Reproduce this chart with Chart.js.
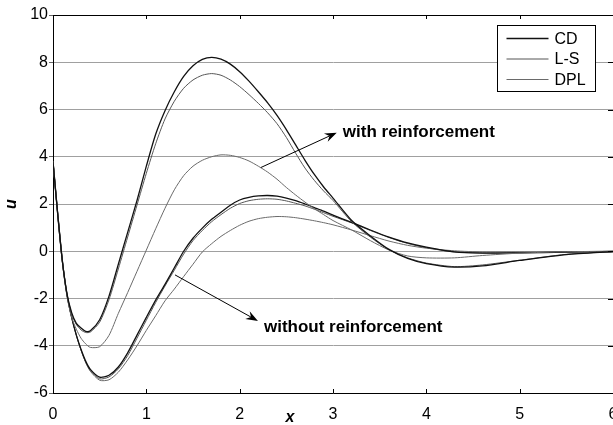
<!DOCTYPE html>
<html>
<head>
<meta charset="utf-8">
<script src="https://cdn.jsdelivr.net/npm/chart.js@4.4.1/dist/chart.umd.min.js"></script>
<style>
  html, body { margin: 0; padding: 0; background: #fff; }
  #wrap { width: 613px; height: 425px; }
</style>
</head>
<body>
<div id="wrap"><canvas id="c" width="613" height="425"></canvas></div>
<script>
/* ── data: displacement u along x ── */
const X = [0, 0.05, 0.1, 0.15, 0.2, 0.25, 0.3, 0.35, 0.4, 0.5, 0.6, 0.7, 0.8, 0.9,
           1.0, 1.1, 1.2, 1.3, 1.4, 1.5, 1.6, 1.7, 1.8, 1.9, 2.0, 2.1, 2.2, 2.3, 2.4,
           2.5, 2.6, 2.7, 2.8, 2.9, 3.0, 3.2, 3.4, 3.6, 3.8, 4.0, 4.3, 4.6, 5.0, 5.5, 6.0];

// with reinforcement
const CD_WITH  = [3.8, 1.6, -0.4, -1.8, -2.6, -3.05, -3.25, -3.39, -3.37, -2.9, -1.9, -0.55, 0.8, 2.15,
                  3.6, 4.95, 5.95, 6.75, 7.4, 7.85, 8.12, 8.21, 8.13, 7.92, 7.6, 7.2, 6.75, 6.28, 5.75,
                  5.15, 4.5, 3.85, 3.25, 2.72, 2.25, 1.3, 0.65, 0.08, -0.3, -0.52, -0.67, -0.62, -0.39, -0.14, -0.02];
const LS_WITH  = [3.8, 1.6, -0.4, -1.82, -2.65, -3.1, -3.33, -3.44, -3.42, -3.0, -2.05, -0.75, 0.6, 1.95,
                  3.3, 4.55, 5.6, 6.35, 6.9, 7.25, 7.45, 7.52, 7.45, 7.25, 6.97, 6.63, 6.26, 5.86, 5.4,
                  4.82, 4.15, 3.52, 3.0, 2.55, 2.15, 1.25, 0.6, 0.06, -0.28, -0.5, -0.65, -0.58, -0.38, -0.13, -0.02];
const DPL_WITH = [3.8, 1.6, -0.45, -1.9, -2.8, -3.3, -3.68, -3.92, -4.07, -4.04, -3.56, -2.63, -1.75, -0.85,
                  0.05, 0.95, 1.82, 2.6, 3.2, 3.6, 3.85, 4.0, 4.08, 4.06, 3.97, 3.82, 3.6, 3.35, 3.05,
                  2.7, 2.38, 2.08, 1.8, 1.55, 1.3, 0.9, 0.45, 0.05, -0.2, -0.28, -0.28, -0.18, -0.08, -0.02, 0];

// without reinforcement
const CD_NO    = [3.8, 1.6, -0.4, -1.85, -2.8, -3.55, -4.15, -4.65, -5.0, -5.33, -5.25, -4.9, -4.3, -3.55,
                  -2.8, -2.07, -1.4, -0.7, 0.0, 0.55, 0.98, 1.35, 1.65, 1.95, 2.17, 2.28, 2.34, 2.36, 2.33,
                  2.25, 2.14, 2.0, 1.85, 1.7, 1.53, 1.22, 0.9, 0.6, 0.35, 0.17, -0.03, -0.08, -0.07, -0.04, -0.01];
const LS_NO    = [3.8, 1.6, -0.4, -1.85, -2.8, -3.55, -4.18, -4.7, -5.05, -5.4, -5.32, -4.98, -4.42, -3.68,
                  -2.92, -2.17, -1.47, -0.8, -0.12, 0.45, 0.88, 1.25, 1.55, 1.82, 2.02, 2.14, 2.2, 2.22, 2.2,
                  2.13, 2.03, 1.92, 1.78, 1.63, 1.48, 1.2, 0.88, 0.58, 0.33, 0.15, -0.03, -0.07, -0.06, -0.03, -0.01];
const DPL_NO   = [3.8, 1.6, -0.4, -1.85, -2.8, -3.55, -4.18, -4.7, -5.08, -5.46, -5.44, -5.12, -4.6, -4.0,
                  -3.35, -2.73, -2.1, -1.6, -1.07, -0.55, -0.03, 0.32, 0.63, 0.88, 1.1, 1.27, 1.38, 1.44, 1.47,
                  1.46, 1.42, 1.36, 1.29, 1.21, 1.12, 0.9, 0.66, 0.43, 0.25, 0.13, 0.02, -0.03, -0.03, -0.02, 0];

const METHODS = ['CD', 'L-S', 'DPL'];
const X_TICKS = [0, 1, 2, 3, 4, 5, 6];
const Y_TICKS = [-6, -4, -2, 0, 2, 4, 6, 8, 10];

/* ── styling ── */
const FONT   = '"Liberation Sans", Arial, Helvetica, sans-serif';
const COLORS = ['#111111', '#555555', '#6a6a6a'];
const WIDTHS = [1.3, 1, 1];

const pts = ys => X.map((x, i) => ({ x, y: ys[i] }));
const series = [[CD_WITH, LS_WITH, DPL_WITH], [CD_NO, LS_NO, DPL_NO]];
const datasets = [];
series.forEach(group => group.forEach((ys, m) => {
  datasets.push({
    label: METHODS[m],
    data: pts(ys),
    borderColor: COLORS[m],
    borderWidth: WIDTHS[m],
    pointRadius: 0,
    tension: 0.25,
    fill: false
  });
}));

// notes with arrows, anchored in data units
const NOTES = [
  { text: 'with reinforcement',    from: [2.225, 3.54], to: [3.04, 5.02],  at: [3.105, 5.05] },
  { text: 'without reinforcement', from: [1.307, -1.0], to: [2.196, -2.95], at: [2.26, -3.24] }
];

function drawArrow(ctx, x1, y1, x2, y2) {
  const a = Math.atan2(y2 - y1, x2 - x1);
  const len = 12, w = 4.5, back = 8;
  const c = Math.cos(a), s = Math.sin(a);
  ctx.beginPath();
  ctx.moveTo(x1, y1);
  ctx.lineTo(x2 - back * c, y2 - back * s);
  ctx.stroke();
  ctx.beginPath();
  ctx.moveTo(x2, y2);
  ctx.lineTo(x2 - len * c + w * s, y2 - len * s - w * c);
  ctx.lineTo(x2 - back * c, y2 - back * s);
  ctx.lineTo(x2 - len * c - w * s, y2 - len * s + w * c);
  ctx.closePath();
  ctx.fill();
}

const extras = {
  id: 'extras',
  afterDatasetsDraw(chart) {
    const { ctx, chartArea: a, scales: { x, y } } = chart;
    ctx.save();
    ctx.strokeStyle = '#000';
    ctx.fillStyle = '#000';
    ctx.lineWidth = 1;

    // top frame line
    ctx.beginPath();
    ctx.moveTo(a.left, a.top + 0.5);
    ctx.lineTo(a.right, a.top + 0.5);
    ctx.stroke();

    // inward tick marks on top and bottom
    ctx.beginPath();
    X_TICKS.forEach(v => {
      const px = Math.round(x.getPixelForValue(v)) + 0.5;
      ctx.moveTo(px, a.top); ctx.lineTo(px, a.top + 4);
      ctx.moveTo(px, a.bottom); ctx.lineTo(px, a.bottom - 4);
    });
    // short marks at the right edge
    Y_TICKS.forEach(v => {
      const py = Math.round(y.getPixelForValue(v)) + 0.5;
      ctx.moveTo(a.right - 5, py); ctx.lineTo(a.right, py);
    });
    ctx.stroke();

    // annotations
    ctx.font = 'bold 17px ' + FONT;
    ctx.textBaseline = 'middle';
    ctx.textAlign = 'left';
    NOTES.forEach(n => {
      drawArrow(ctx,
        x.getPixelForValue(n.from[0]), y.getPixelForValue(n.from[1]),
        x.getPixelForValue(n.to[0]), y.getPixelForValue(n.to[1]));
      ctx.fillText(n.text, x.getPixelForValue(n.at[0]), y.getPixelForValue(n.at[1]));
    });

    // x axis title
    ctx.font = 'bold italic 16px ' + FONT;
    ctx.textAlign = 'center';
    ctx.fillText('x', 290, 418);

    // legend box in the top-right corner
    const bx = a.right - 115.5, by = a.top + 10.5, bw = 98, bh = 66;
    ctx.fillStyle = '#fff';
    ctx.fillRect(bx, by, bw, bh);
    ctx.strokeRect(bx, by, bw, bh);
    ctx.font = '16px ' + FONT;
    ctx.textAlign = 'left';
    METHODS.forEach((name, i) => {
      const ry = by + 13 + i * 20.5;
      ctx.strokeStyle = COLORS[i];
      ctx.lineWidth = WIDTHS[i];
      ctx.beginPath();
      ctx.moveTo(bx + 9, ry); ctx.lineTo(bx + 51, ry);
      ctx.stroke();
      ctx.fillStyle = '#000';
      ctx.fillText(name, bx + 57, ry + 1);
    });
    ctx.restore();
  }
};

new Chart(document.getElementById('c'), {
  type: 'line',
  data: { datasets },
  plugins: [extras],
  options: {
    responsive: false,
    animation: false,
    layout: { padding: { top: 15, left: 0, right: 0, bottom: 0 } },
    plugins: { legend: { display: false }, tooltip: { enabled: false } },
    scales: {
      x: {
        type: 'linear', min: 0, max: 6,
        afterBuildTicks: s => { s.ticks = X_TICKS.map(v => ({ value: v })); },
        afterFit: s => { s.height = 32; s.paddingLeft = 0; s.paddingRight = 0; },
        grid: { display: false },
        border: { display: true, color: '#000', width: 1 },
        ticks: { color: '#000', font: { family: FONT, size: 16 }, padding: 4, maxRotation: 0, autoSkip: false }
      },
      y: {
        min: -6, max: 10,
        afterBuildTicks: s => { s.ticks = Y_TICKS.map(v => ({ value: v })); },
        afterFit: s => { s.width = 53; s.paddingTop = 0; s.paddingBottom = 0; },
        grid: { color: '#a0a0a0', lineWidth: 1, drawTicks: true, tickLength: 4, tickColor: '#666' },
        border: { display: true, color: '#000', width: 1 },
        ticks: { color: '#000', font: { family: FONT, size: 16 }, padding: 1 },
        title: {
          display: true, text: 'u', color: '#000',
          font: { family: FONT, size: 16, style: 'italic', weight: 'bold', lineHeight: 1 },
          padding: { top: 4, bottom: 0 }
        }
      }
    }
  }
});
</script>
</body>
</html>
